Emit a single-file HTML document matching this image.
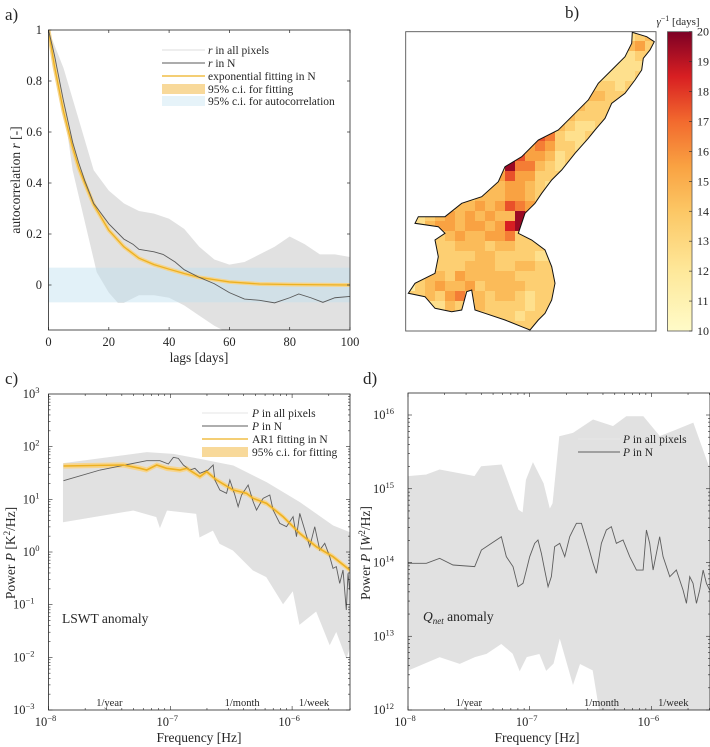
<!DOCTYPE html>
<html><head><meta charset="utf-8"><style>
html,body{margin:0;padding:0;background:#fff;}
svg{display:block;font-family:"Liberation Serif",serif;}
</style></head><body>
<svg id="fig" width="710" height="747" viewBox="0 0 710 747">
<defs>
<clipPath id="clipA"><rect x="48.5" y="30" width="301.5" height="300"/></clipPath>
<clipPath id="clipC"><rect x="48.5" y="394" width="301.5" height="316"/></clipPath>
<clipPath id="clipD"><rect x="408" y="393" width="302" height="317"/></clipPath>
<clipPath id="clipLake"><polygon id="lakeClipPoly" points=""/></clipPath>
<linearGradient id="cbGrad" x1="0" y1="1" x2="0" y2="0">
<stop offset="0" stop-color="#fffbc8"/><stop offset="0.2" stop-color="#fee89a"/><stop offset="0.4" stop-color="#fcc765"/><stop offset="0.55" stop-color="#f9a242"/><stop offset="0.7" stop-color="#f26a2e"/><stop offset="0.85" stop-color="#d81f22"/><stop offset="1" stop-color="#7d0025"/>
</linearGradient>
</defs>
<g id="panelA"></g>
<g id="panelB"></g>
<g id="panelC"></g>
<g id="panelD"></g>
</svg>
<script>
// ---------- Panel A data ----------
const aLagsN=[0,2,5,8,10,12,15,20,25,28,30,35,38,42,45,50,55,60,65,70,75,80,83,87,91,95,100];
const aValsN=[1,0.9,0.72,0.56,0.48,0.41,0.32,0.24,0.18,0.16,0.14,0.13,0.12,0.09,0.06,0.03,0.005,-0.03,-0.055,-0.06,-0.07,-0.05,-0.035,-0.05,-0.068,-0.05,-0.045];
const aLagsFit=[0,2,5,8,10,12,15,20,25,30,35,40,45,50,60,70,80,100];
const aValsFit=[1,0.857,0.68,0.54,0.46,0.40,0.315,0.215,0.15,0.105,0.08,0.062,0.045,0.03,0.012,0.004,0.002,0];
const aLagsUp=[0,5,10,15,20,25,30,35,40,45,50,55,60,65,70,75,80,85,90,95,100];
const aValsUp=[1,0.85,0.65,0.45,0.37,0.32,0.29,0.28,0.26,0.22,0.15,0.1,0.08,0.09,0.12,0.15,0.19,0.16,0.12,0.12,0.11];
const aLagsLo=[0,3,5,8,10,13,16,20,23,25,30,35,40,45,50,55,60,70,80,90,100];
const aValsLo=[1,0.85,0.7,0.45,0.35,0.2,0.05,-0.03,-0.07,-0.07,-0.04,-0.04,-0.05,-0.08,-0.12,-0.16,-0.19,-0.2,-0.2,-0.2,-0.2];
const aCI=0.068;
const aXTicks=[0,20,40,60,80,100];
const aYTicks=[0,0.2,0.4,0.6,0.8,1];
const aYTickLabels=["0","0.2","0.4","0.6","0.8","1"];

// ---------- Panel B data (gamma^-1 grid, value = 10 + digit + 0.5) ----------
const bGrid=[
"3333333333333333333333234",
"3333333333333333333333453",
"3333333333333333333332233",
"3333333333333333333322223",
"3333333333333333333222233",
"3333333333333333334332333",
"3333333333333333344433333",
"3333333333333333443333333",
"3333333333333334433333333",
"3333333333333354322333333",
"3333333333333763223333333",
"3333333333335653323333333",
"3333333333675542333333333",
"3333333333966432333333333",
"3333333335755333333333333",
"3333333344554323333333333",
"3333333444554333333333333",
"3333344545765333333333333",
"2234545454497333333333333",
"2245545545893333333333333",
"3333454455633333333333333",
"3333344434433333333333333",
"3223333443333223333333333",
"3333334443344333333333333",
"2344354444433333333333333",
"1345445344443333333333333",
"3343564434432333333333333",
"3222433433332333333333333",
"3332223333323333333333333",
"3333333333333333333333333"];
const bCbTicks=[10,11,12,13,14,15,16,17,18,19,20];

// ---------- Panel C data (log10 freq, log10 power) ----------
const cNlf=[-7.877,-7.576,-7.194,-7.085,-7.016,-6.975,-6.934,-6.893,-6.839,-6.798,-6.757,-6.689,-6.648,-6.634,-6.593,-6.538,-6.511,-6.470,-6.443,-6.415,-6.361,-6.320,-6.292,-6.238,-6.183,-6.156,-6.101,-6.046,-5.992,-5.964,-5.937,-5.896,-5.855,-5.814,-5.773,-5.732,-5.691,-5.664,-5.637,-5.609,-5.582,-5.555,-5.541,-5.527];
const cNlp=[1.354,1.557,1.734,1.734,1.671,1.797,1.778,1.652,1.557,1.589,1.494,1.557,1.652,1.367,1.177,1.114,1.367,1.082,0.861,1.082,1.272,0.956,0.797,1.019,1.082,0.797,0.544,0.481,0.671,0.291,0.734,0.418,0.101,0.481,0.038,0.165,-0.089,-0.310,-0.278,-0.595,-0.342,-1.101,-0.405,-0.722];
const cFitLf=[-7.877,-7.385,-7.249,-7.194,-7.112,-7.030,-6.921,-6.866,-6.757,-6.702,-6.620,-6.484,-6.374,-6.320,-6.210,-6.074,-5.937,-5.801,-5.664,-5.527];
const cFitLp=[1.633,1.652,1.589,1.557,1.652,1.589,1.557,1.589,1.430,1.525,1.367,1.177,1.114,1.019,0.924,0.671,0.354,0.101,-0.089,-0.342];
const cFitCI=0.05;
const cUpLf=[-7.877,-7.194,-6.975,-6.757,-6.484,-6.210,-5.937,-5.664,-5.527];
const cUpLp=[1.677,1.886,1.854,1.759,1.633,1.316,0.937,0.494,0.367];
const cLoLf=[-7.877,-7.303,-7.112,-7.085,-7.030,-6.784,-6.757,-6.648,-6.593,-6.484,-6.320,-6.210,-6.074,-5.992,-5.937,-5.801,-5.691,-5.637,-5.555,-5.527];
const cLoLp=[0.576,0.797,0.671,0.481,0.797,0.734,0.291,0.418,0.165,0.038,-0.342,-0.468,-0.975,-0.722,-1.367,-1.114,-1.747,-1.494,-2.0,-1.8];
const cYTicks=[-3,-2,-1,0,1,2,3];
const cXTicks=[-8,-7,-6];

// ---------- Panel D data ----------
const dNlf=[-8,-7.849,-7.740,-7.630,-7.452,-7.397,-7.315,-7.233,-7.192,-7.137,-7.096,-7.055,-7.027,-7.0,-6.959,-6.932,-6.904,-6.877,-6.849,-6.822,-6.795,-6.753,-6.712,-6.671,-6.644,-6.616,-6.575,-6.534,-6.479,-6.452,-6.411,-6.370,-6.329,-6.288,-6.233,-6.178,-6.123,-6.068,-6.041,-6.014,-5.986,-5.932,-5.904,-5.849,-5.795,-5.740,-5.712,-5.685,-5.658,-5.630,-5.603,-5.575,-5.548,-5.521];
const dNlp=[13.989,13.989,14.056,13.966,13.944,14.169,14.260,14.350,14.079,13.944,13.672,13.718,13.898,14.079,14.260,14.305,14.124,13.898,13.672,13.808,14.215,14.260,14.079,14.350,14.441,14.531,14.531,14.305,13.989,13.853,14.260,14.441,14.486,14.260,14.305,14.079,13.898,13.898,14.441,14.260,13.898,14.350,14.079,13.808,13.898,13.627,13.446,13.808,13.718,13.446,13.627,13.898,13.718,13.627];
const dUpLf=[-8,-7.849,-7.740,-7.452,-7.397,-7.233,-7.137,-7.096,-7.055,-7.027,-6.973,-6.890,-6.836,-6.808,-6.753,-6.644,-6.479,-6.315,-6.205,-6.068,-5.932,-5.795,-5.658,-5.521];
const dUpLp=[15.164,15.186,15.254,15.164,15.299,15.322,14.893,14.712,14.667,15.119,15.345,15.073,14.712,14.802,15.706,15.751,15.932,15.842,15.977,15.977,15.706,15.796,15.887,15.254];
const dLoLf=[-8,-7.740,-7.575,-7.452,-7.356,-7.233,-7.137,-7.082,-7.027,-6.918,-6.863,-6.808,-6.753,-6.644,-6.589,-6.479,-6.425,-5.521];
const dLoLp=[12.542,12.723,12.633,12.723,12.768,12.904,12.768,12.542,12.723,12.768,12.542,12.633,12.994,12.362,12.633,12.542,12.0,12.0];
const dYTicks=[12,13,14,15,16];
const dXTicks=[-8,-7,-6];

const NS="http://www.w3.org/2000/svg";
function mk(tag,attrs,parent){const e=document.createElementNS(NS,tag);for(const k in attrs)e.setAttribute(k,attrs[k]);if(parent)parent.appendChild(e);return e;}
function txt(parent,x,y,s,opt){const t=mk('text',{x:x,y:y,'font-size':(opt&&opt.fs)||12.5,'text-anchor':(opt&&opt.anchor)||'middle',fill:'#262626'},parent);t.textContent=s;return t;}
function pathFrom(xs,ys,fx,fy){return xs.map((v,i)=>(i?'L':'M')+fx(v).toFixed(2)+','+fy(ys[i]).toFixed(2)).join('');}
function bandPath(xu,yu,xl,yl,fx,fy){let d=pathFrom(xu,yu,fx,fy);for(let i=xl.length-1;i>=0;i--)d+='L'+fx(xl[i]).toFixed(2)+','+fy(yl[i]).toFixed(2);return d+'Z';}
function sup(parent,x,y,base,exp,anchor){const t=mk('text',{x:x,y:y,'font-size':12.5,'text-anchor':anchor,fill:'#262626'},parent);t.appendChild(document.createTextNode(base));const s=mk('tspan',{dy:-5,'font-size':8.5},t);s.textContent=exp;return t;}

// ===== Panel A =====
(function(){
const g=document.getElementById('panelA');
const L=48.5,R=350,T=30,B=330;
const fx=v=>L+(v/100)*(R-L);
const fy=v=>285-v*255;
txt(g,5,20,'a)',{fs:17,anchor:'start'});
const pg=mk('g',{'clip-path':'url(#clipA)'},g);
const env=mk('path',{d:bandPath(aLagsUp,aValsUp,aLagsLo,aValsLo,fx,fy),fill:'#e1e1e1'},pg);


const ci=mk('rect',{x:L,y:fy(aCI),width:R-L,height:fy(-aCI)-fy(aCI),fill:'rgb(190,225,240)','fill-opacity':0.45},pg);


const fitBand=mk('path',{d:pathFrom(aLagsFit,aValsFit,fx,fy),fill:'none',stroke:'#f5d48c','stroke-width':4},pg);


const fit=mk('path',{d:pathFrom(aLagsFit,aValsFit,fx,fy),fill:'none',stroke:'#edb120','stroke-width':1.3},pg);


const nl=mk('path',{d:pathFrom(aLagsN,aValsN,fx,fy),fill:'none',stroke:'#5a5a5a','stroke-width':0.9},pg);


mk('rect',{x:L,y:T,width:R-L,height:B-T,fill:'none',stroke:'#262626','stroke-width':0.8},g);
aXTicks.forEach(v=>{mk('line',{x1:fx(v),x2:fx(v),y1:B,y2:B-3,stroke:'#262626','stroke-width':0.7},g);mk('line',{x1:fx(v),x2:fx(v),y1:T,y2:T+3,stroke:'#262626','stroke-width':0.7},g);
const t=txt(g,fx(v),346,String(v));});
aYTicks.forEach((v,i)=>{mk('line',{x1:L,x2:L+3,y1:fy(v),y2:fy(v),stroke:'#262626','stroke-width':0.7},g);mk('line',{x1:R,x2:R-3,y1:fy(v),y2:fy(v),stroke:'#262626','stroke-width':0.7},g);
const t=txt(g,42,fy(v)+4,aYTickLabels[i],{anchor:'end'});});
const xl=txt(g,199,362,'lags [days]',{fs:13.5});
const yl=mk('text',{x:0,y:0,'font-size':13.5,'text-anchor':'middle',fill:'#262626',transform:'translate(20,180) rotate(-90)'},g);
yl.innerHTML='autocorrelation <tspan font-style="italic">r</tspan> [-]';

// legend
const lg=mk('g',{},g);
const rows=[50,63,76,89,101];
mk('line',{x1:162,x2:205,y1:rows[0],y2:rows[0],stroke:'#dcdcdc','stroke-width':1},lg);
mk('line',{x1:162,x2:205,y1:rows[1],y2:rows[1],stroke:'#5a5a5a','stroke-width':1},lg);
mk('line',{x1:162,x2:205,y1:rows[2],y2:rows[2],stroke:'#edb120','stroke-width':1.3},lg);
mk('rect',{x:162,y:rows[3]-5,width:43,height:10,fill:'#f8d99a'},lg);
mk('rect',{x:162,y:rows[4]-5,width:43,height:10,fill:'#e6f3f9'},lg);
const labs=['<tspan font-style="italic">r</tspan> in all pixels','<tspan font-style="italic">r</tspan> in N','exponential fitting in N','95% c.i. for fitting','95% c.i. for autocorrelation'];
labs.forEach((s,i)=>{const t=mk('text',{x:208,y:rows[i]+4,'font-size':11.5,fill:'#262626'},lg);t.innerHTML=s;});
})();

// ===== Panel B =====
(function(){
const g=document.getElementById('panelB');
const lakeZ=[[712,97],[755,110],[778,125],[765,150],[745,175],[740,210],[720,240],[690,280],[650,310],[630,355],[600,390],[580,415],[540,460],[500,510],[470,540],[440,580],[420,610],[390,640],[370,700],[410,720],[450,750],[470,800],[480,850],[470,900],[450,940],[430,960],[405,990],[380,980],[330,960],[270,940],[240,930],[230,870],[215,875],[200,930],[170,935],[120,925],[90,890],[40,880],[60,850],[120,820],[130,770],[120,720],[150,700],[130,680],[60,670],[70,650],[150,650],[200,610],[260,590],[310,545],[330,500],[380,470],[430,420],[490,390],[540,340],[580,300],[610,250],[650,210],[690,170],[710,130]];
const pts=lakeZ.map(p=>(395+p[0]/3).toFixed(1)+','+(p[1]/3).toFixed(1)).join(' ');
document.getElementById('lakeClipPoly').setAttribute('points',pts);
txt(g,565,18,'b)',{fs:17,anchor:'start'});
mk('rect',{x:405.7,y:31.7,width:250.3,height:299.3,fill:'#fff',stroke:'#555','stroke-width':0.9},g);
const stops=[[10,[255,251,200]],[12,[254,232,154]],[14,[252,199,101]],[15.5,[249,162,66]],[17,[242,106,46]],[18.5,[216,31,34]],[20,[125,0,37]]];
function cmap(v){for(let i=1;i<stops.length;i++){if(v<=stops[i][0]){const a=stops[i-1],b=stops[i];const f=(v-a[0])/(b[0]-a[0]);const c=a[1].map((x,k)=>Math.round(x+(b[1][k]-x)*f));return 'rgb('+c.join(',')+')';}}return 'rgb(125,0,37)';}
const cells=mk('g',{'clip-path':'url(#clipLake)'},g);

bGrid.forEach((row,r)=>{for(let c=0;c<row.length;c++){const v=10+parseInt(row[c])+0.5;
const cell=mk('rect',{x:405+c*10,y:31+r*10,width:10.3,height:10.3,fill:cmap(v)},cells);

}});
const outline=mk('polygon',{points:pts,fill:'none',stroke:'#111','stroke-width':1},g);

const cb=mk('rect',{x:667.5,y:31.7,width:24.5,height:299.3,fill:'url(#cbGrad)',stroke:'#555','stroke-width':0.8},g);

const cy=v=>331-(v-10)/10*299.3;
bCbTicks.forEach(v=>{mk('line',{x1:689,x2:692,y1:cy(v),y2:cy(v),stroke:'#333','stroke-width':0.7},g);
const t=txt(g,697,cy(v)+4,String(v),{anchor:'start',fs:12});});
const ct=mk('text',{x:678,y:25,'font-size':11,'text-anchor':'middle',fill:'#262626'},g);
ct.innerHTML='<tspan font-style="italic">γ</tspan><tspan dy="-4" font-size="8">−1</tspan><tspan dy="4"> [days]</tspan>';

})();

// ===== Log panels =====
function logAxes(g,L,R,T,B,fx,fy,xt,yt,ymin,ymax,xmax){
mk('rect',{x:L,y:T,width:R-L,height:B-T,fill:'none',stroke:'#262626','stroke-width':0.8},g);
for(let d=-8;d<=-6;d++)for(let m=1;m<10;m++){const lx=d+Math.log10(m);if(lx>xmax)break;const len=m===1?4:2;const X=fx(lx);
mk('line',{x1:X,x2:X,y1:B,y2:B-len,stroke:'#262626','stroke-width':0.6},g);mk('line',{x1:X,x2:X,y1:T,y2:T+len,stroke:'#262626','stroke-width':0.6},g);}
for(let d=ymin;d<ymax;d++)for(let m=1;m<10;m++){const ly=d+Math.log10(m);const Y=fy(ly);if(Y<T)break;const len=m===1?4:2;
mk('line',{x1:L,x2:L+len,y1:Y,y2:Y,stroke:'#262626','stroke-width':0.6},g);mk('line',{x1:R,x2:R-len,y1:Y,y2:Y,stroke:'#262626','stroke-width':0.6},g);}
xt.forEach(v=>{const t=sup(g,fx(v)-3,726,'10','−'+(-v),'middle');});
yt.forEach(v=>{const t=sup(g,L-14,fy(v)+4,'10',v<0?'−'+(-v):String(v),'end');
t.setAttribute('x',L-4-(String(v).length)*5);});
[['1/year',-7.5],['1/month',-6.41],['1/week',-5.82]].forEach(a=>{const t=txt(g,fx(a[1]),706,a[0],{fs:10.5});});
}

// ===== Panel C =====
(function(){
const g=document.getElementById('panelC');
const L=48.5,R=350,T=394,B=710;
const fx=v=>L+(v+8)*121.8;
const fy=v=>394+(3-v)*52.67;
txt(g,5,384,'c)',{fs:17,anchor:'start'});
const pg=mk('g',{'clip-path':'url(#clipC)'},g);
const env=mk('path',{d:bandPath(cUpLf,cUpLp,cLoLf,cLoLp,fx,fy),fill:'#e1e1e1',stroke:'#e1e1e1','stroke-width':1},pg);

const band=mk('path',{d:bandPath(cFitLf,cFitLp.map(v=>v+cFitCI),cFitLf,cFitLp.map(v=>v-cFitCI),fx,fy),fill:'#f7d58e'},pg);

const nl=mk('path',{d:pathFrom(cNlf,cNlp,fx,fy),fill:'none',stroke:'#5e5e5e','stroke-width':0.9},pg);

const fit=mk('path',{d:pathFrom(cFitLf,cFitLp,fx,fy),fill:'none',stroke:'#edb120','stroke-width':1.6},pg);

logAxes(g,L,R,T,B,fx,fy,cXTicks,cYTicks,-3,3,-5.52);
const lsw=txt(g,62,623,'LSWT anomaly',{fs:13.5,anchor:'start'});
const xl=txt(g,199,742,'Frequency [Hz]',{fs:13.5});
const yl=mk('text',{'font-size':13.5,'text-anchor':'middle',fill:'#262626',transform:'translate(15,553) rotate(-90)'},g);
yl.innerHTML='Power <tspan font-style="italic">P</tspan> [K<tspan dy="-5" font-size="9">2</tspan><tspan dy="5">/Hz]</tspan>';

const lg=mk('g',{},g);
const rows=[413,426,439,452];
mk('line',{x1:202,x2:248,y1:rows[0],y2:rows[0],stroke:'#e6e6e6','stroke-width':1},lg);
mk('line',{x1:202,x2:248,y1:rows[1],y2:rows[1],stroke:'#5e5e5e','stroke-width':1},lg);
mk('line',{x1:202,x2:248,y1:rows[2],y2:rows[2],stroke:'#edb120','stroke-width':1.3},lg);
mk('rect',{x:202,y:rows[3]-5,width:46,height:10,fill:'#f8d99a'},lg);
['<tspan font-style="italic">P</tspan> in all pixels','<tspan font-style="italic">P</tspan> in N','AR1 fitting in N','95% c.i. for fitting'].forEach((s,i)=>{const t=mk('text',{x:252,y:rows[i]+4,'font-size':11.5,fill:'#262626'},lg);t.innerHTML=s;});
})();

// ===== Panel D =====
(function(){
const g=document.getElementById('panelD');
const L=408,R=710,T=393,B=710;
const fx=v=>L+(v+8)*121.7;
const fy=v=>415+(16-v)*73.75;
txt(g,363,384,'d)',{fs:17,anchor:'start'});
const pg=mk('g',{'clip-path':'url(#clipD)'},g);
const env=mk('path',{d:bandPath(dUpLf,dUpLp,dLoLf,dLoLp,fx,fy),fill:'#e1e1e1',stroke:'#e1e1e1','stroke-width':1},pg);

const nl=mk('path',{d:pathFrom(dNlf,dNlp,fx,fy),fill:'none',stroke:'#5e5e5e','stroke-width':0.9},pg);

logAxes(g,L,R,T,B,fx,fy,dXTicks,dYTicks,12,17,-5.52);
const q=mk('text',{x:423,y:621,'font-size':13.5,fill:'#262626'},g);
q.innerHTML='<tspan font-style="italic">Q</tspan><tspan dy="3" font-size="9" font-style="italic">net</tspan><tspan dy="-3"> anomaly</tspan>';

const xl=txt(g,537,742,'Frequency [Hz]',{fs:13.5});
const yl=mk('text',{'font-size':13.5,'text-anchor':'middle',fill:'#262626',transform:'translate(370,553) rotate(-90)'},g);
yl.innerHTML='Power <tspan font-style="italic">P</tspan> [<tspan font-style="italic">W</tspan><tspan dy="-5" font-size="9">2</tspan><tspan dy="5">/Hz]</tspan>';

const lg=mk('g',{},g);
mk('line',{x1:578,x2:620,y1:439,y2:439,stroke:'#e6e6e6','stroke-width':1},lg);
mk('line',{x1:578,x2:620,y1:452,y2:452,stroke:'#5e5e5e','stroke-width':1},lg);
['<tspan font-style="italic">P</tspan> in all pixels','<tspan font-style="italic">P</tspan> in N'].forEach((s,i)=>{const t=mk('text',{x:623,y:443+i*13,'font-size':11.5,fill:'#262626'},lg);t.innerHTML=s;});
})();
</script>
</body></html>
